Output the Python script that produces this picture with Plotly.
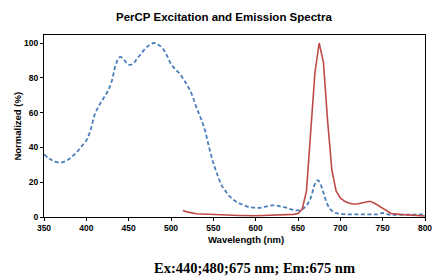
import plotly.graph_objects as go

ex_wl = [350, 355, 360, 365, 370, 375, 380, 385, 390, 395, 400, 405, 410, 415, 420, 425, 430, 435, 440, 445,
         450, 455, 460, 465, 470, 475, 480, 485, 490, 495, 500, 505, 510, 515, 520, 525, 530, 535, 540, 545,
         550, 555, 560, 565, 570, 575, 580, 585, 590, 595, 600, 605, 610, 615, 620, 625, 630, 635, 640, 645,
         650, 655, 660, 665, 670, 673, 675, 680, 685, 690, 695, 700, 710, 720, 730, 740, 745, 750, 755, 760,
         770, 780, 790, 800]
ex_val = [36, 34, 32.5, 31.5, 31.3, 32, 33.5, 35.5, 38, 41, 44, 50, 59, 64, 68, 72, 78, 88, 92, 90,
          87.5, 88, 91, 94, 97, 99, 100, 99, 97, 93, 88, 85, 82.5, 79, 75, 70, 63, 57, 50, 40,
          31, 24, 18, 14.5, 11.5, 9.5, 8, 7, 6, 5.5, 5.2, 5.3, 5.8, 6.3, 6.7, 6.5, 6, 5.5, 4.7, 4,
          3.8, 4.5, 6.5, 11, 19, 21, 20.5, 14, 7, 3.5, 2.2, 1.8, 1.5, 1.5, 1.5, 1.5, 1.6, 2.3, 1.6, 1.2,
          1.3, 1.4, 1.4, 1.5]

em_wl = [514, 520, 530, 545, 560, 580, 600, 620, 635, 645, 650, 655, 660, 665, 670, 675, 680, 685, 690, 695,
         700, 705, 710, 715, 720, 725, 730, 735, 740, 745, 750, 755, 760, 770, 780, 790, 800]
em_val = [3.8, 2.8, 1.9, 1.5, 1.2, 0.9, 0.7, 1.0, 1.3, 1.5, 2.0, 4.5, 15, 50, 83, 100, 89, 55, 27, 15,
          11, 9, 8, 7.5, 7.5, 8, 8.5, 9, 8, 6.5, 5, 3, 2, 1.5, 1.2, 1.0, 0.6]

x_ticks = [350, 400, 450, 500, 550, 600, 650, 700, 750, 800]
y_ticks = [0, 20, 40, 60, 80, 100]

fig = go.Figure()
fig.add_trace(go.Scatter(x=ex_wl, y=ex_val, mode="lines",
                         line=dict(color="#4a7ebb", width=1.8, dash="4px,2.5px", shape="spline"),
                         name="Excitation"))
fig.add_trace(go.Scatter(x=em_wl, y=em_val, mode="lines",
                         line=dict(color="#be4b48", width=1.6),
                         name="Emission"))

axis_font = dict(family="Liberation Sans, Arial", size=8.5, color="#000000", weight="bold")
fig.update_layout(
    width=433, height=271,
    margin=dict(l=36, r=9, t=27, b=62),
    paper_bgcolor="white", plot_bgcolor="white",
    showlegend=False,
    xaxis=dict(range=[350, 800], tickvals=x_ticks, ticks="outside", ticklen=3, tickwidth=1,
               tickcolor="#000", showline=True, linecolor="#000", linewidth=1, mirror=True,
               showgrid=False, zeroline=False, tickfont=axis_font),
    yaxis=dict(range=[0, 104.6], tickvals=y_ticks, ticks="outside", ticklen=3, tickwidth=1,
               tickcolor="#000", showline=True, linecolor="#000", linewidth=1, mirror=True,
               showgrid=False, zeroline=False, tickfont=axis_font),
    annotations=[
        dict(text="<b>PerCP Excitation and Emission Spectra</b>", xref="paper", yref="paper",
             x=0.472, y=1.099, showarrow=False, xanchor="center", yanchor="middle",
             font=dict(family="Liberation Sans, Arial", size=11.5, color="#000")),
        dict(text="<b>Wavelength (nm)</b>", xref="paper", yref="paper",
             x=0.531, y=-0.126, showarrow=False, xanchor="center", yanchor="middle",
             font=dict(family="Liberation Sans, Arial", size=9.5, color="#000")),
        dict(text="<b>Normalized (%)</b>", xref="paper", yref="paper", textangle=-90,
             x=-0.072, y=0.5, showarrow=False, xanchor="center", yanchor="middle",
             font=dict(family="Liberation Sans, Arial", size=9.5, color="#000")),
        dict(text="<b>Ex:440;480;675 nm; Em:675 nm</b>", xref="paper", yref="paper",
             x=0.552, y=-0.28, showarrow=False, xanchor="center", yanchor="middle",
             font=dict(family="Liberation Serif, Times New Roman", size=14.5, color="#000")),
    ],
)

fig.write_html("out.html")
